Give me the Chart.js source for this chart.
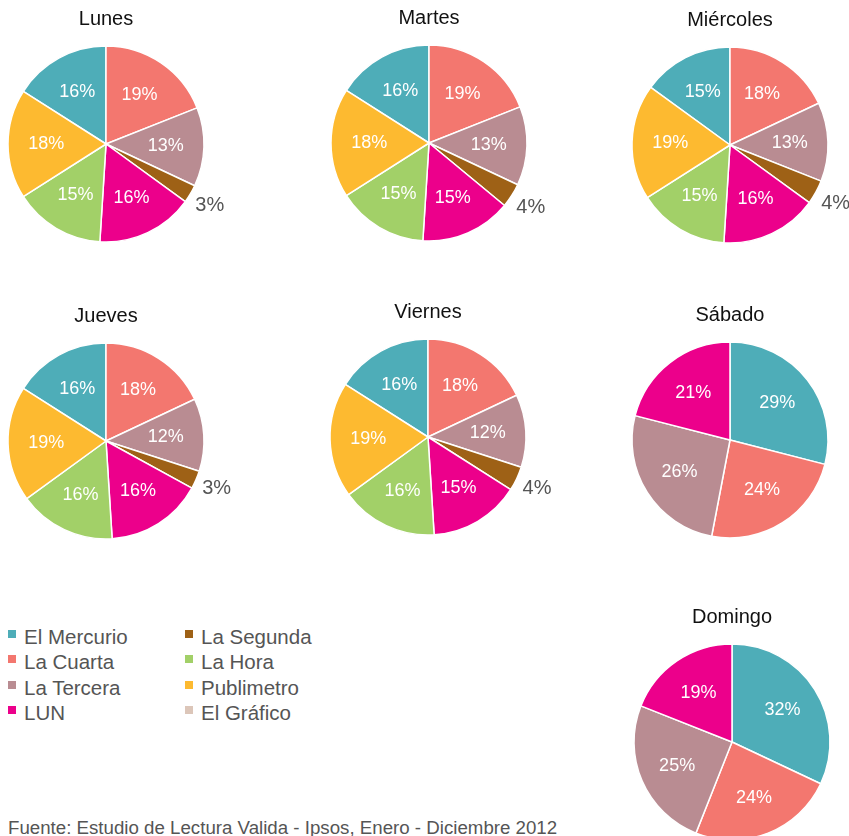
<!DOCTYPE html>
<html>
<head>
<meta charset="utf-8">
<script src="https://cdn.jsdelivr.net/npm/chart.js@4.4.1/dist/chart.umd.min.js"></script>
<style>
  html, body { margin: 0; padding: 0; background: #fff; }
  body { width: 849px; height: 836px; position: relative; overflow: hidden; font-family: 'Liberation Sans', Arial, sans-serif; }
  canvas.pie { position: absolute; }
  #legend { position: absolute; left: 8px; top: 624px; color: #555; font-size: 20.5px; }
  .col { position: absolute; top: 0; white-space: nowrap; }
  .item { height: 25.3px; line-height: 25.3px; position: relative; padding-left: 16px; }
  .item i { position: absolute; left: 0; top: 6px; width: 8px; height: 8px; }
  #source { position: absolute; left: 8px; top: 817px; color: #555; font-size: 18.7px; white-space: nowrap; }
</style>
</head>
<body>
<div id="legend"></div>
<div id="source">Fuente: Estudio de Lectura Valida - Ipsos, Enero - Diciembre 2012</div>
<script>
// --- DATA ---
const weekdayPapers = ['El Mercurio', 'La Cuarta', 'La Tercera', 'La Segunda', 'LUN', 'La Hora', 'Publimetro'];
const weekendPapers = ['El Mercurio', 'La Cuarta', 'La Tercera', 'LUN'];
const legendPapers = ['El Mercurio', 'La Cuarta', 'La Tercera', 'LUN', 'La Segunda', 'La Hora', 'Publimetro', 'El Gráfico'];

const lunes = [16, 19, 13, 3, 16, 15, 18];
const martes = [16, 19, 13, 4, 15, 15, 18];
const miercoles = [15, 18, 13, 4, 16, 15, 19];
const jueves = [16, 18, 12, 3, 16, 16, 19];
const viernes = [16, 18, 12, 4, 15, 16, 19];
const sabado = [29, 24, 26, 21];
const domingo = [32, 24, 25, 19];

const paperColors = {
    'El Mercurio': '#4eadb8',
    'La Cuarta': '#f3776f',
    'La Tercera': '#b98c92',
    'La Segunda': '#9e6116',
    'LUN': '#ec008b',
    'La Hora': '#a2d068',
    'Publimetro': '#fdba30',
    'El Gráfico': '#dcc6b9'
};

const FONT = "'Liberation Sans', Arial, sans-serif";
const RADIUS = 98;

// each pie: title, papers, values, center on the page
const pies = [
    { title: 'Lunes', papers: weekdayPapers, values: lunes, cx: 106, cy: 144 },
    { title: 'Martes', papers: weekdayPapers, values: martes, cx: 428.5, cy: 142.5 },
    { title: 'Miércoles', papers: weekdayPapers, values: miercoles, cx: 729.5, cy: 144.5 },
    { title: 'Jueves', papers: weekdayPapers, values: jueves, cx: 106, cy: 440.5 },
    { title: 'Viernes', papers: weekdayPapers, values: viernes, cx: 428, cy: 437 },
    { title: 'Sábado', papers: weekendPapers, values: sabado, cx: 729.5, cy: 440 },
    { title: 'Domingo', papers: weekendPapers, values: domingo, cx: 732, cy: 742 }
];

// --- percentage labels ---
const pctLabels = {
    id: 'pctLabels',
    afterDatasetsDraw(chart) {
        const ctx = chart.ctx;
        const values = chart.data.datasets[0].data;
        const meta = chart.getDatasetMeta(0);
        ctx.save();
        ctx.textAlign = 'center';
        ctx.textBaseline = 'middle';
        meta.data.forEach((arc, i) => {
            const p = arc.getProps(['x', 'y', 'startAngle', 'endAngle', 'outerRadius'], true);
            const mid = (p.startAngle + p.endAngle) / 2;
            const small = values[i] < 5;
            const d = p.outerRadius * (small ? 1.23 : 0.61);
            ctx.fillStyle = small ? '#555' : '#fff';
            ctx.font = (small ? '20px ' : '18px ') + FONT;
            ctx.fillText(values[i] + '%', p.x + Math.cos(mid) * d, p.y + Math.sin(mid) * d);
        });
        ctx.restore();
    }
};

function makePie(cfg) {
    const canvas = document.createElement('canvas');
    canvas.className = 'pie';
    canvas.width = 260;
    canvas.height = 260;
    canvas.style.left = (cfg.cx - 130) + 'px';
    canvas.style.top = (cfg.cy - 144) + 'px';
    document.body.appendChild(canvas);

    // weekdays: El Mercurio ends at 12 o'clock; weekends: it starts there
    const rotation = cfg.papers.length > 4 ? -cfg.values[0] * 3.6 : 0;

    new Chart(canvas.getContext('2d'), {
        type: 'pie',
        data: {
            labels: cfg.papers,
            datasets: [{
                data: cfg.values,
                backgroundColor: cfg.papers.map(p => paperColors[p]),
                borderColor: '#ffffff',
                borderWidth: 1.5,
                radius: RADIUS
            }]
        },
        options: {
            responsive: false,
            animation: false,
            rotation: rotation,
            layout: { padding: { bottom: 13 } },
            plugins: {
                legend: { display: false },
                tooltip: { enabled: false },
                title: {
                    display: true,
                    text: cfg.title,
                    color: '#111',
                    font: { family: FONT, size: 20, weight: 'normal' },
                    padding: { top: 7, bottom: 10 }
                }
            }
        },
        plugins: [pctLabels]
    });
}

pies.forEach(makePie);

// --- legend ---
const legend = document.getElementById('legend');
[legendPapers.slice(0, 4), legendPapers.slice(4)].forEach((group, c) => {
    const col = document.createElement('div');
    col.className = 'col';
    col.style.left = (c * 177) + 'px';
    group.forEach(name => {
        const item = document.createElement('div');
        item.className = 'item';
        item.innerHTML = '<i style="background:' + paperColors[name] + '"></i>' + name;
        col.appendChild(item);
    });
    legend.appendChild(col);
});
</script>
</body>
</html>
